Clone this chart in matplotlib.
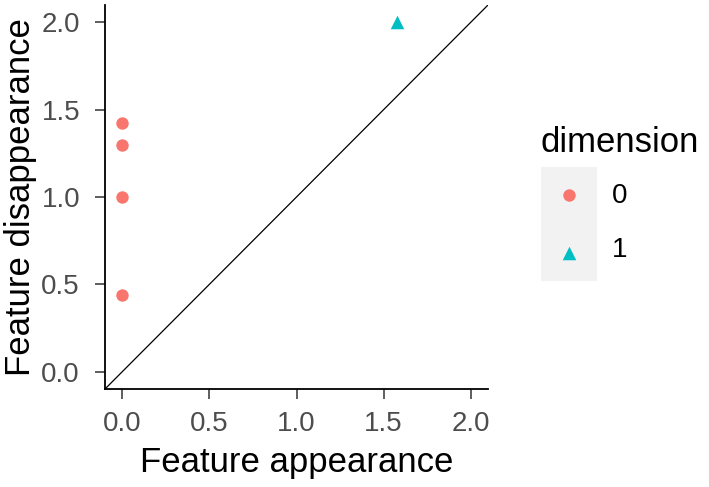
import matplotlib
matplotlib.use("Agg")
import matplotlib.pyplot as plt

plt.rcParams['font.family'] = ['Liberation Sans', 'DejaVu Sans']

# persistence diagram points
dim0_birth = [0.0, 0.0, 0.0, 0.0]
dim0_death = [0.437, 1.0, 1.30, 1.425]
dim1_birth = [1.575]
dim1_death = [2.0]

dimensions = ['0', '1']
colors = ['#F8766D', '#00BFC4']
markers = ['o', '^']
ticks = [0.0, 0.5, 1.0, 1.5, 2.0]
tick_labels = ['0.0', '0.5', '1.0', '1.5', '2.0']

fig = plt.figure(figsize=(7.09, 4.87), dpi=100)
ax = fig.add_axes([105 / 709, 1 - 389 / 487, 383 / 709, 384 / 487])

lims = [-0.1, 2.1]
ax.plot(lims, lims, color='black', lw=0.9, zorder=1)
ax.scatter(dim0_birth, dim0_death, s=80, marker=markers[0], color=colors[0],
           linewidths=0, zorder=3, clip_on=False)
ax.scatter(dim1_birth, dim1_death, s=95, marker=markers[1], color=colors[1],
           linewidths=0, zorder=3, clip_on=False)

ax.set_xlim(lims)
ax.set_ylim(lims)
ax.set_xticks(ticks)
ax.set_xticklabels(tick_labels)
ax.set_yticks(ticks)
ax.set_yticklabels(tick_labels)

for side in ['top', 'right']:
    ax.spines[side].set_visible(False)
for side in ['left', 'bottom']:
    ax.spines[side].set_linewidth(1.3)
    ax.spines[side].set_color('black')
ax.tick_params(axis='both', length=7, width=1.1, color='#333333',
               labelsize=20, labelcolor='#4D4D4D')
ax.tick_params(axis='x', pad=9)
ax.tick_params(axis='y', pad=11)

ax.set_xlabel('Feature appearance', fontsize=25, color='black', labelpad=6)
ax.set_ylabel('Feature disappearance', fontsize=25, color='black', labelpad=3)

# legend drawn by hand so the key background matches
fig.text(541 / 709, 1 - 142 / 487, 'dimension', fontsize=25, va='center', ha='left')
key_ax = fig.add_axes([541 / 709, 1 - 281 / 487, 56 / 709, 114 / 487])
key_ax.set_facecolor('#F2F2F2')
for s in key_ax.spines.values():
    s.set_visible(False)
key_ax.set_xticks([])
key_ax.set_yticks([])
key_ax.set_xlim(0, 1)
key_ax.set_ylim(0, 2)
for i, (lab, c, m) in enumerate(zip(dimensions, colors, markers)):
    yk = 1.5 - i
    key_ax.scatter([0.5], [yk], s=80 if m == 'o' else 95, marker=m, color=c, linewidths=0)
    fig.text(612 / 709, 1 - (196 + 54 * i) / 487, lab, fontsize=20,
             va='center', ha='left')

fig.savefig('out.png', dpi=100, facecolor='white')
